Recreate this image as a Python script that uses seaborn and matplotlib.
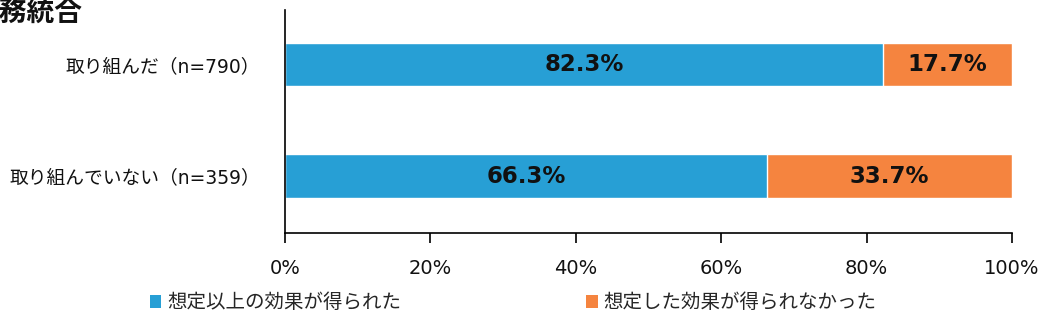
import matplotlib
matplotlib.use("Agg")
import matplotlib.pyplot as plt
import seaborn as sns
import pandas as pd
from matplotlib.patches import Patch

categories = ["取り組んだ（n=790）", "取り組んでいない（n=359）"]
above = [82.3, 66.3]
below = [17.7, 33.7]
series_names = ["想定以上の効果が得られた", "想定した効果が得られなかった"]
xticks = [0, 20, 40, 60, 80, 100]
xtick_labels = ["0%", "20%", "40%", "60%", "80%", "100%"]
title = "業務統合"

blue = "#279FD5"
orange = "#F5843F"

sns.set_theme(style="white")
plt.rcParams["font.family"] = ["DejaVu Sans", "Noto Sans CJK JP"]
cjk = ["Noto Sans CJK JP", "DejaVu Sans"]
latin_first = ["DejaVu Sans", "Noto Sans CJK JP"]

df = pd.DataFrame({"cat": categories, "above": above, "below": below})
df["total"] = df["above"] + df["below"]

fig = plt.figure(figsize=(10.47, 3.25), dpi=100)
ax = fig.add_axes([285 / 1047, 1 - 233 / 325, 727 / 1047, 223 / 325])

sns.barplot(data=df, x="total", y="cat", color=orange, orient="h", width=0.39,
            saturation=1, ax=ax)
sns.barplot(data=df, x="above", y="cat", color=blue, orient="h", width=0.39,
            saturation=1, ax=ax)

# labels
blue_container = ax.containers[1]
ax.bar_label(blue_container, labels=[f"{v:.1f}%" for v in above], label_type="center",
             fontsize=16.5, fontweight="bold", color="#111111")
for i, (a, b) in enumerate(zip(above, below)):
    ax.text(a + b / 2, i, f"{b:.1f}%", ha="center", va="center",
            fontsize=16.5, fontweight="bold", color="#111111")

ax.set_xlim(0, 100)
ax.set_ylim(1.51, -0.49)
ax.set_xticks(xticks)
ax.set_xticklabels(xtick_labels, fontsize=14, color="#111111")
ax.set_yticks(range(len(categories)))
ax.set_yticklabels(categories, fontsize=13.5, family=latin_first, color="#111111")
ax.set_xlabel("")
ax.set_ylabel("")
ax.tick_params(axis="x", direction="out", length=7, width=1.2, color="black", pad=12,
               bottom=True)
ax.tick_params(axis="y", length=0, pad=18)
for s in ["top", "right"]:
    ax.spines[s].set_visible(False)
for s in ["left", "bottom"]:
    ax.spines[s].set_color("black")
    ax.spines[s].set_linewidth(1.2)

handles = [Patch(facecolor=blue, edgecolor="none"), Patch(facecolor=orange, edgecolor="none")]
fig.legend(handles, series_names, loc="center", bbox_to_anchor=(513 / 1047, 1 - 303 / 325),
           ncol=2, frameon=False, prop={"family": cjk, "size": 14},
           handlelength=0.6, handleheight=0.6, handletextpad=0.3, columnspacing=9.5,
           borderaxespad=0)

fig.text(82 / 1047, 1.0, title, ha="right", va="top", fontsize=20, fontweight="bold",
         family=cjk, color="#111111")

fig.savefig("out.png", dpi=100)
